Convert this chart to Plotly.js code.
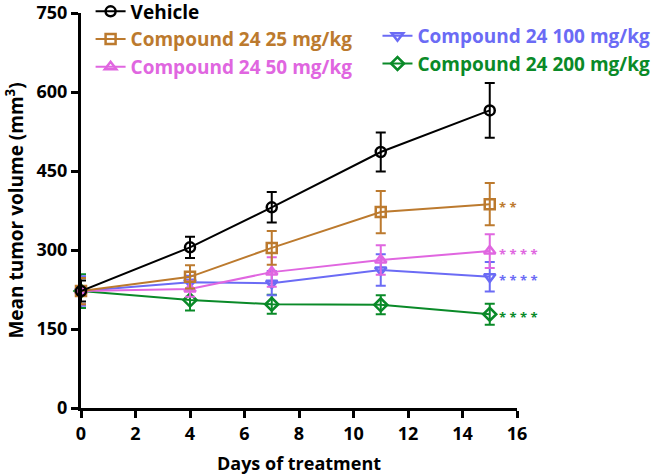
<!DOCTYPE html>
<html>
<head>
<meta charset="utf-8">
<script src="https://cdn.plot.ly/plotly-3.0.1.min.js"></script>
<style>
  html, body { margin: 0; padding: 0; background: #fff; }
  #chart { width: 666px; height: 476px; }
</style>
</head>
<body>
<div id="chart"></div>
<script>
// days of treatment
var days = [0, 4, 7, 11, 15];

// group names and colours
var groupNames = ['Vehicle', 'Compound 24 25 mg/kg', 'Compound 24 50 mg/kg',
                  'Compound 24 100 mg/kg', 'Compound 24 200 mg/kg'];
var groupColors = ['#000000', '#BC7A2E', '#E066E0', '#6B6BF5', '#0A8A28'];
var groupSymbols = ['circle-open', 'square-open', 'triangle-up-open', 'triangle-down-open', 'diamond-open'];

// mean tumor volume (mm3)
var vehicleMean = [222, 305, 381, 486, 565];
var c25Mean     = [222, 249, 304, 372, 387];
var c50Mean     = [222, 226, 258, 281, 298];
var c100Mean    = [222, 239, 237, 262, 249];
var c200Mean    = [222, 205, 197, 196, 178];

// error (SEM)
var vehicleErr = [20, 20, 29, 37, 52];
var c25Err     = [25, 22, 32, 40, 40];
var c50Err     = [25, 15, 28, 28, 32];
var c100Err    = [28, 12, 23, 30, 28];
var c200Err    = [32, 20, 18, 18, 20];

// significance at day 15
var stars = ['', '* *', '* * * *', '* * * *', '* * * *'];

var means = [vehicleMean, c25Mean, c50Mean, c100Mean, c200Mean];
var errs = [vehicleErr, c25Err, c50Err, c100Err, c200Err];

function makeTrace(i, legendId) {
    return {
        x: days,
        y: means[i],
        type: 'scatter',
        mode: 'lines+markers',
        name: '<span style="color:' + groupColors[i] + '">' + groupNames[i] + '</span>',
        legend: legendId,
        line: { color: groupColors[i], width: 2 },
        marker: { symbol: groupSymbols[i], size: 10, color: groupColors[i], line: { width: 2.5, color: groupColors[i] } },
        error_y: { type: 'data', array: errs[i], visible: true, color: groupColors[i], thickness: 2, width: 5 },
        cliponaxis: false
    };
}

// draw order: green at the bottom, vehicle on top
var data = [
    makeTrace(4, 'legend2'),
    makeTrace(3, 'legend2'),
    makeTrace(2, 'legend'),
    makeTrace(1, 'legend'),
    makeTrace(0, 'legend')
];

var annotations = [];
for (var i = 1; i < groupNames.length; i++) {
    annotations.push({
        x: days[days.length - 1], y: means[i][days.length - 1],
        xref: 'x', yref: 'y',
        text: stars[i], showarrow: false,
        xanchor: 'left', yanchor: 'middle', xshift: 7, yshift: -3,
        font: { family: 'Open Sans', size: 13, weight: 'bold', color: groupColors[i] }
    });
}

var legendFont = { family: 'Open Sans', size: 19, weight: 'bold', color: '#000' };

var layout = {
    width: 666,
    height: 476,
    margin: { l: 81, r: 149, t: 13, b: 68, autoexpand: false },
    paper_bgcolor: '#fff',
    plot_bgcolor: '#fff',
    showlegend: true,
    font: { family: 'Open Sans', color: '#000' },
    xaxis: {
        range: [0, 16],
        tickvals: [0, 2, 4, 6, 8, 10, 12, 14, 16],
        showgrid: false, zeroline: false,
        showline: true, linecolor: '#000', linewidth: 3,
        ticks: 'outside', ticklen: 7, tickwidth: 3, tickcolor: '#000',
        tickfont: { family: 'Open Sans', size: 18, weight: 'bold', color: '#000' },
        title: { text: 'Days of treatment', font: { family: 'Open Sans', size: 18, weight: 'bold', color: '#000' }, standoff: 14 }
    },
    yaxis: {
        range: [0, 750],
        tickvals: [0, 150, 300, 450, 600, 750],
        showgrid: false, zeroline: false,
        showline: true, linecolor: '#000', linewidth: 3,
        ticks: 'outside', ticklen: 7, tickwidth: 3, tickcolor: '#000',
        tickfont: { family: 'Open Sans', size: 18, weight: 'bold', color: '#000' },
        title: { text: 'Mean tumor volume (mm<sup>3</sup>)', font: { family: 'Open Sans', size: 19, weight: 'bold', color: '#000' }, standoff: 8 }
    },
    legend: {
        x: 0.022, y: 1.052, xanchor: 'left', yanchor: 'top',
        bgcolor: 'rgba(0,0,0,0)', traceorder: 'reversed',
        font: legendFont, tracegroupgap: 0
    },
    legend2: {
        x: 0.68, y: 0.99, xanchor: 'left', yanchor: 'top',
        bgcolor: 'rgba(0,0,0,0)', traceorder: 'reversed',
        font: legendFont, tracegroupgap: 0
    },
    annotations: annotations
};

Plotly.newPlot('chart', data, layout, { displayModeBar: false, staticPlot: true });
</script>
</body>
</html>
